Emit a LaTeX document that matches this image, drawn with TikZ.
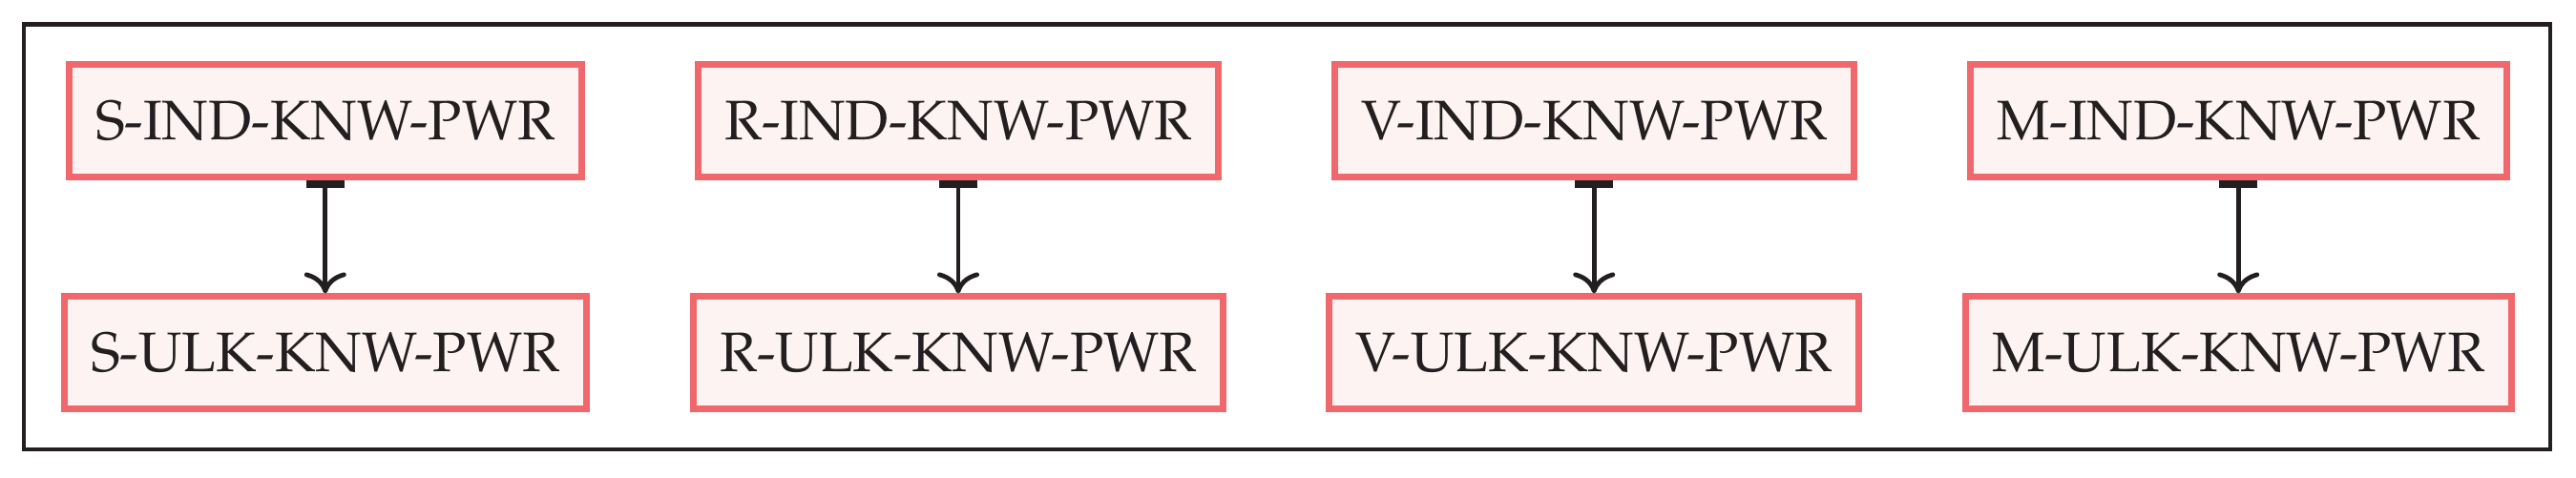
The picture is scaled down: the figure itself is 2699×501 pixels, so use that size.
\documentclass[tikz,border=0pt]{standalone}
\IfFileExists{t1ppl.fd}{\usepackage[T1]{fontenc}\renewcommand\rmdefault{ppl}}{\usepackage{fontspec}\setmainfont{Liberation Serif}}
\usetikzlibrary{arrows.meta}
\definecolor{boxred}{HTML}{F0686C}
\definecolor{boxfill}{HTML}{FDF3F2}
\definecolor{inkdark}{HTML}{231F20}
\tikzset{
  unitbox/.style={draw=boxred, fill=boxfill, line width=1.75pt,
    minimum height=29.5pt, inner xsep=7pt, inner ysep=0pt,
    text=inkdark, font=\fontsize{14.6pt}{17pt}\selectfont},
  linkarrow/.style={draw=inkdark, line width=1.2pt,
    {Bar[width=10pt,line width=2pt]}-{Computer Modern Rightarrow[width=11pt,length=5.5pt]}},
  frame/.style={draw=inkdark, line width=1.1pt}
}
\begin{document}
\begin{tikzpicture}[x=0.25pt,y=-0.25pt]
\useasboundingbox (0,0) rectangle (2699,501);
\draw[frame] (25,25.7) rectangle (2672,471);
\node[unitbox] (sind) at (340.8,126.5) {S-IND-KNW-PWR};
\node[unitbox] (sulk) at (340.8,370) {S-ULK-KNW-PWR};
\node[unitbox] (rind) at (1004,126.5) {R-IND-KNW-PWR};
\node[unitbox] (rulk) at (1004,370) {R-ULK-KNW-PWR};
\node[unitbox] (vind) at (1670.2,126.5) {V-IND-KNW-PWR};
\node[unitbox] (vulk) at (1670.2,370) {V-ULK-KNW-PWR};
\node[unitbox] (mind) at (2345.2,126.5) {M-IND-KNW-PWR};
\node[unitbox] (mulk) at (2345.2,370) {M-ULK-KNW-PWR};
\draw[linkarrow] (sind.south) -- (sulk.north);
\draw[linkarrow] (rind.south) -- (rulk.north);
\draw[linkarrow] (vind.south) -- (vulk.north);
\draw[linkarrow] (mind.south) -- (mulk.north);
\end{tikzpicture}
\end{document}
